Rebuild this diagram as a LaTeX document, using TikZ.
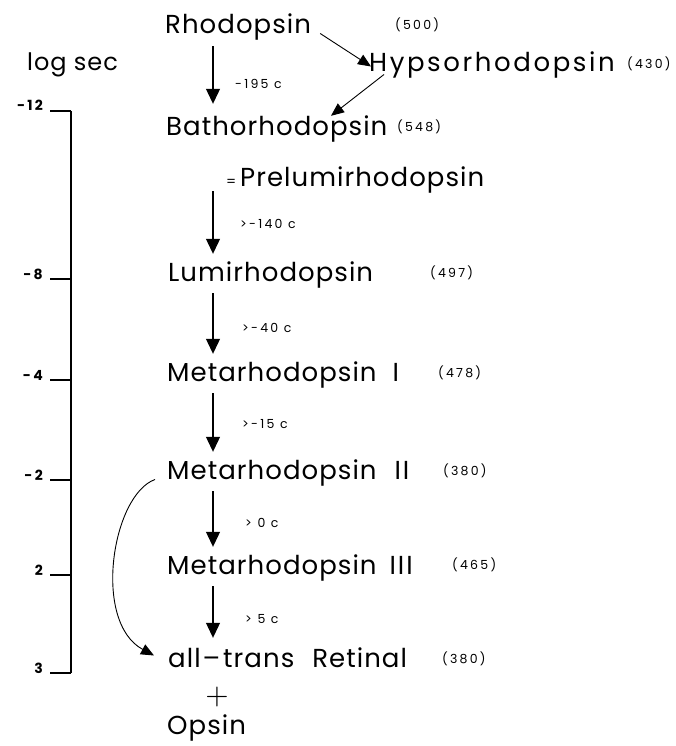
\documentclass[tikz,border=0pt]{standalone}
\usepackage{fontspec}
\usepackage{graphicx}
\setmainfont{Poppins}
\newfontfamily\namefam[LetterSpace=4]{Poppins}
\newfontfamily\widefam[LetterSpace=10]{Poppins}
\newfontfamily\smallfam[LetterSpace=18]{Poppins}
\newfontfamily\tickfam[LetterSpace=15]{Poppins}
\usetikzlibrary{arrows.meta,calc}
\begin{document}
\begin{tikzpicture}[x=1pt,y=-1pt,
  species/.style={anchor=base west, inner sep=0pt, text height=18pt, text depth=5pt,
    font=\namefam\fontsize{26}{28}\selectfont},
  absorb/.style={anchor=base west, inner sep=0pt, font=\smallfam\fontsize{12.5}{14}\selectfont},
  temp/.style={anchor=base west, inner sep=0pt, font=\smallfam\fontsize{12.5}{14}\selectfont},
  scalelbl/.style={anchor=base east, inner sep=0pt, font=\tickfam\bfseries\fontsize{14}{16}\selectfont},
  axislbl/.style={anchor=base west, inner sep=0pt, font=\namefam\fontsize{24}{26}\selectfont},
  step arrow/.style={line width=1.1pt, shorten <=7pt, shorten >=9pt,
    -{Triangle[width=14pt,length=15pt]}},
  side arrow/.style={line width=0.9pt, -{Triangle[width=11pt,length=13pt]}},
  scaleline/.style={line width=1.3pt},
]
\useasboundingbox (0,0) rectangle (675,746);

% time axis
\node[axislbl] (logsec) at (27,71) {log sec};
\coordinate (top) at (71,111);
\coordinate (bot) at (71,673);
\draw[scaleline] (top) -- (bot);
\foreach \y/\lab/\nm in {111/{-12}/a, 279/{-\,8}/b, 380/{-\,4}/c, 480/{-\,2}/d, 575/{2}/e, 673/{3}/f} {
  \coordinate (t\nm) at (71,\y);
  \draw[scaleline] (t\nm) -- ++(-21,0);
  \node[scalelbl] (l\nm) at (43,\y) {\lab};
}

% intermediates of the bleaching sequence
\node[species] (rho) at (165,34) {Rhodopsin};
\node[species, font=\widefam\fontsize{26}{28}\selectfont] (hyp) at (369,72) {Hypsorhodopsin};
\node[species] (bat) at (166,136) {Bathorhodopsin};
\node[species] (pre) at (240,186) {\makebox[0pt][r]{\fontsize{14}{15}\selectfont =\hspace{4pt}}Prelumirhodopsin};
\node[species] (lum) at (168,281) {Lumirhodopsin};
\node[species] (mI) at (167,381) {Metarhodopsin\hspace{16pt}I};
\node[species] (mII) at (167,479) {Metarhodopsin\hspace{18pt}I\hspace{2pt}I};
\node[species] (mIII) at (167,574) {Metarhodopsin\hspace{13pt}I\hspace{2pt}I\hspace{2pt}I};
\node[species] (ret) at (168,667) {all\hspace{2pt}–\hspace{3pt}trans\hspace{18pt}Retinal};
\node[anchor=center, inner sep=0pt] (plus) at (217,697) {\scalebox{3}{$+$}};
\node[species] (ops) at (167,734) {Opsin};

% absorption maxima
\node[absorb] (v500) at (395,30) {(500)};
\node[absorb] (v430) at (627,69) {(430)};
\node[absorb] (v548) at (397,132) {(548)};
\node[absorb] (v497) at (430,277) {(497)};
\node[absorb] (v478) at (438,377) {(478)};
\node[absorb] (v380a) at (443,475) {(380)};
\node[absorb] (v465) at (452,569) {(465)};
\node[absorb] (v380b) at (442,663) {(380)};

% temperatures
\node[temp] (c1) at (235,89) {-195 c};
\node[temp] (c2) at (240,228) {>-140 c};
\node[temp] (c3) at (242,332) {>-40 c};
\node[temp] (c4) at (242,428) {>-15 c};
\node[temp] (c5) at (245,527) {> 0 c};
\node[temp] (c6) at (245,623) {> 5 c};

% main reaction arrows
\coordinate (ax) at (213,0);
\draw[step arrow, shorten >=14pt] (rho.south -| ax) -- (bat.north -| ax);
\draw[step arrow, shorten <=0pt] (pre.south -| ax) -- (lum.north -| ax);
\draw[step arrow] (lum.south -| ax) -- (mI.north -| ax);
\draw[step arrow] (mI.south -| ax) -- (mII.north -| ax);
\draw[step arrow] (mII.south -| ax) -- (mIII.north -| ax);
\draw[step arrow, shorten >=11pt] (mIII.south -| ax) -- (ret.north -| ax);

% side path through hypsorhodopsin
\draw[side arrow] ($(rho.east)+(9,6)$) -- ($(hyp.west)+(2,1)$);
\draw[side arrow] ($(hyp.west)+(15,9)$) -- ($(bat.north west)+(165,-2)$);

% direct path from metarhodopsin II
\draw[side arrow] ($(mII.west)+(-12,7)$) .. controls (112,495) and (92,622) .. ($(ret.west)+(-14,-5)$);
\end{tikzpicture}
\end{document}
